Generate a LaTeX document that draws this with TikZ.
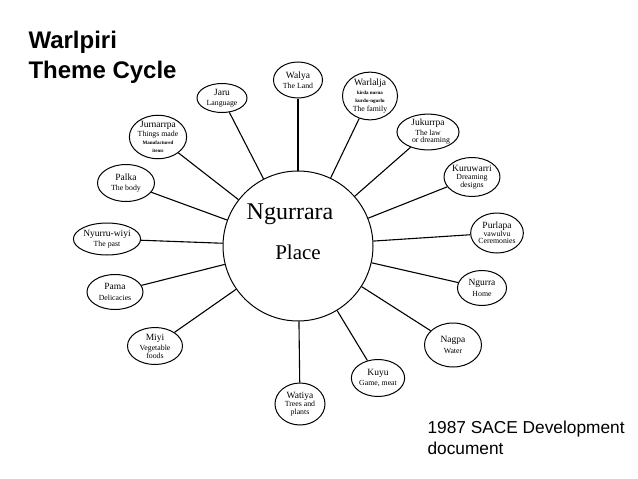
\documentclass[tikz,border=0pt]{standalone}
\usepackage{fontspec}
\setmainfont{Liberation Serif}
\newfontfamily\headfont{Liberation Sans}
\usetikzlibrary{shapes.geometric}
\newcommand\elname[1]{{\fontsize{9.5}{11}\selectfont #1}}
\newcommand\eltiny[1]{{\fontsize{5}{5.5}\selectfont\bfseries #1}}
\begin{document}
\begin{tikzpicture}[x=1pt,y=-1pt,
  el/.style={draw, ellipse, line width=1pt, inner sep=0pt, align=center,
    font=\fontsize{7.8}{9.5}\selectfont},
  spoke/.style={line width=1.1pt},
  title/.style={anchor=west, align=left, font=\headfont\bfseries\fontsize{24}{30}\selectfont},
  note/.style={anchor=west, align=left, font=\headfont\fontsize{17.3}{21}\selectfont}]
\useasboundingbox (0,0) rectangle (638,479);
\fill[white] (0,0) rectangle (638,479);

\node[title] (title) at (25,57) {Warlpiri\\Theme Cycle};
\node[note] (note) at (424,438) {1987 SACE Development\\document};

\node[draw, circle, line width=1pt, minimum size=150pt, inner sep=0pt] (c) at (298,246) {};
\node[font=\fontsize{24}{24}\selectfont] (ctop) at (290,214) {Ngurrara};
\node[font=\fontsize{21}{21}\selectfont] (cbot) at (298,252) {Place};

\node[el, minimum width=49pt, minimum height=36pt] (walya) at (298,80) {\elname{Walya}\\[1pt]The Land};
\node[el, minimum width=50pt, minimum height=29pt] (jaru) at (222,98) {\elname{Jaru}\\[1pt]Language};
\node[el, minimum width=55pt, minimum height=37pt] (warlalja) at (370,96) {\elname{Warlalja}\\[-1pt]\eltiny{kirda nurna}\\[-1pt]\eltiny{kurdu-ngurlu}\\[-1pt]The family};
\node[el, minimum width=48pt, minimum height=35pt] (jukurrpa) at (428,132) {\elname{Jukurrpa}\\The law\\[-2pt]\hspace*{6pt}or dreaming};
\node[el, minimum width=50pt, minimum height=39pt] (kuruwarri) at (472,177) {\elname{Kuruwarri}\\[-1pt]Dreaming\\[-2pt]designs};
\node[el, minimum width=49pt, minimum height=40pt] (purlapa) at (497,233) {\elname{Purlapa}\\[-2pt]vawulvu\\[-2pt]Ceremonies};
\node[el, minimum width=49pt, minimum height=35pt] (ngurra) at (482,288) {\elname{Ngurra}\\[1pt]Home};
\node[el, minimum width=57pt, minimum height=44pt] (nagpa) at (453,345) {\elname{Nagpa}\\[2pt]Water};
\node[el, minimum width=50pt, minimum height=37pt] (kuyu) at (378,378) {\elname{Kuyu}\\[1pt]Game, meat};
\node[el, minimum width=50pt, minimum height=42pt] (watiya) at (300,404) {\elname{Watiya}\\[-1pt]Trees and\\[-2pt]plants};
\node[el, minimum width=55pt, minimum height=37pt] (miyi) at (155,346) {\elname{Miyi}\\[1pt]Vegetable\\[-2pt]foods};
\node[el, minimum width=56pt, minimum height=35pt] (pama) at (115,292) {\elname{Pama}\\[1pt]Delicacies};
\node[el, minimum width=59pt, minimum height=32pt] (nyurru) at (107,239) {\elname{Nyurru-wiyi}\\[1pt]The past};
\node[el, minimum width=57pt, minimum height=37pt] (palka) at (126,183) {\elname{Palka}\\[1pt]The body};
\node[el, minimum width=57pt, minimum height=40pt] (jurnarrpa) at (158,137) {\elname{Jurnarrpa}\\[-1pt]Things made\\[-1pt]\eltiny{Manufactured}\\[-2pt]\eltiny{items}};

\foreach \e in {walya,jaru,warlalja,jukurrpa,kuruwarri,purlapa,ngurra,nagpa,kuyu,watiya,miyi,pama,nyurru,palka,jurnarrpa}
  \draw[spoke] (\e) -- (c);
\end{tikzpicture}
\end{document}
